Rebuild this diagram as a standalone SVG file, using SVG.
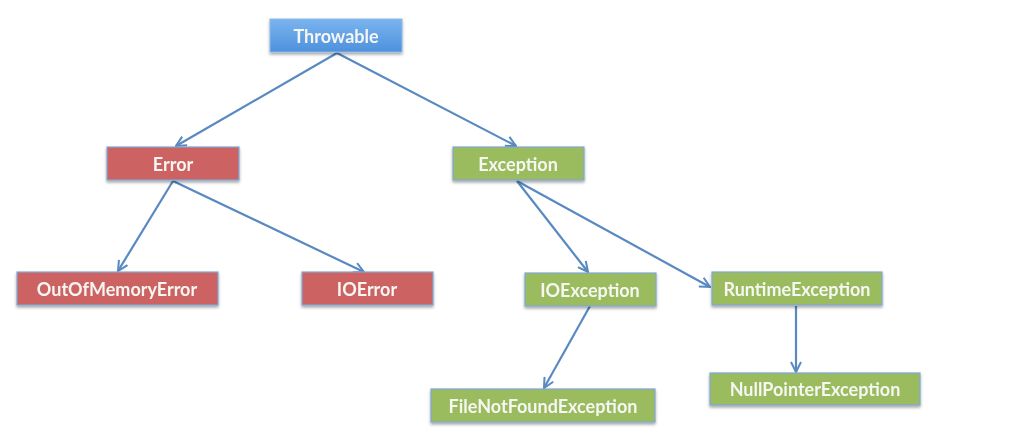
<svg xmlns="http://www.w3.org/2000/svg" width="1031" height="443" viewBox="0 0 1031 443">
<style>
.lbl{font-family:Lato,"Open Sans","Liberation Sans",sans-serif;font-size:18px;font-weight:bold;fill:#f6f6f2;text-anchor:middle;dominant-baseline:central}
.blue{fill:url(#gBlue);stroke:#8fb8e6;stroke-width:1}
.red{fill:#cd6262;stroke:#7fa7d6;stroke-width:1.2}
.green{fill:#9bbb5f;stroke:#7fa7d6;stroke-width:1.2}
.edge{stroke:#5889c0;stroke-width:2.2;fill:none;marker-end:url(#arr)}
</style>
<defs>
<linearGradient id="gBlue" x1="0" y1="0" x2="0" y2="1">
<stop offset="0" stop-color="#7ab4ef"/>
<stop offset="1" stop-color="#4e91dd"/>
</linearGradient>
<filter id="sh" x="-10%" y="-20%" width="120%" height="160%">
<feDropShadow dx="0" dy="2" stdDeviation="1.5" flood-color="#000" flood-opacity="0.35"/>
</filter>
<marker id="arr" viewBox="0 0 12 12" refX="11" refY="6" markerWidth="12" markerHeight="12" markerUnits="userSpaceOnUse" orient="auto">
<path d="M1,1 L11,6 L1,11" fill="none" stroke="#5889c0" stroke-width="2"/>
</marker>
</defs>
<g id="connectors">
<line class="edge" x1="337" y1="53" x2="176" y2="146"/>
<line class="edge" x1="337" y1="53" x2="516" y2="146"/>
<line class="edge" x1="173" y1="181" x2="118" y2="271"/>
<line class="edge" x1="173" y1="181" x2="364" y2="272"/>
<line class="edge" x1="517" y1="181" x2="588" y2="272"/>
<line class="edge" x1="517" y1="181" x2="710" y2="287"/>
<line class="edge" x1="590" y1="306" x2="544" y2="388"/>
<line class="edge" x1="796" y1="306" x2="796" y2="372"/>
</g>
<g id="throwable" filter="url(#sh)"><rect class="blue" x="270" y="19" width="132" height="33"/><text class="lbl" x="336" y="36">Throwable</text></g>
<g id="error" filter="url(#sh)"><rect class="red" x="107" y="147" width="132" height="33"/><text class="lbl" x="173" y="164">Error</text></g>
<g id="exception" filter="url(#sh)"><rect class="green" x="453" y="147" width="131" height="33"/><text class="lbl" x="518" y="164">Exception</text></g>
<g id="outofmemoryerror" filter="url(#sh)"><rect class="red" x="17" y="272" width="201" height="33"/><text class="lbl" x="117" y="289">OutOfMemoryError</text></g>
<g id="ioerror" filter="url(#sh)"><rect class="red" x="302" y="272" width="131" height="33"/><text class="lbl" x="367" y="289">IOError</text></g>
<g id="ioexception" filter="url(#sh)"><rect class="green" x="525" y="273" width="131" height="33"/><text class="lbl" x="590" y="290">IOException</text></g>
<g id="runtimeexception" filter="url(#sh)"><rect class="green" x="712" y="272" width="170" height="33"/><text class="lbl" x="797" y="289">RuntimeException</text></g>
<g id="filenotfoundexception" filter="url(#sh)"><rect class="green" x="431" y="389" width="224" height="33"/><text class="lbl" x="543" y="406">FileNotFoundException</text></g>
<g id="nullpointerexception" filter="url(#sh)"><rect class="green" x="710" y="373" width="210" height="32"/><text class="lbl" x="815" y="389">NullPointerException</text></g>
</svg>
